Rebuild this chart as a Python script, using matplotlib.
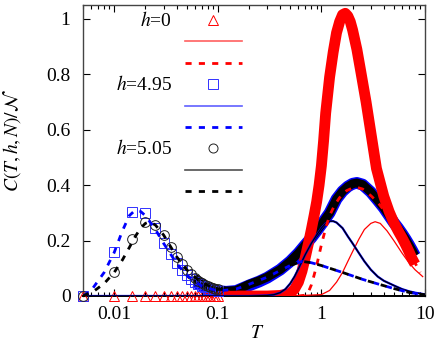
import matplotlib
matplotlib.use('Agg')
import matplotlib.pyplot as plt
from matplotlib.lines import Line2D

plt.rcParams['font.family'] = ['Liberation Serif', 'DejaVu Serif']
plt.rcParams['mathtext.fontset'] = 'stix'

# sparse low-T data points (h=0, 4.95, 5.05)
T_pts = [0.005, 0.010, 0.015, 0.020, 0.025, 0.030, 0.035, 0.040, 0.045, 0.050,
         0.055, 0.060, 0.065, 0.070, 0.075, 0.080, 0.085, 0.090, 0.095, 0.100]
C_pts_h0 = [0, 0, 0, 0, 0, 0, 0, 0, 0, 0, 0, 0, 0, 0, 0, 0, 0, 0, 0, 0]
C_pts_h495 = [0, 0.157, 0.302, 0.300, 0.247, 0.190, 0.150, 0.118, 0.093, 0.075,
              0.061, 0.050, 0.042, 0.036, 0.031, 0.027, 0.024, 0.022, 0.020, 0.018]
C_pts_h505 = [0, 0.085, 0.205, 0.266, 0.256, 0.220, 0.178, 0.142, 0.115, 0.095,
              0.078, 0.065, 0.055, 0.047, 0.041, 0.036, 0.032, 0.029, 0.026, 0.024]

# dense data points at higher T (they merge into thick bands)
T_band_h0 = [0.1, 0.2, 0.3, 0.4, 0.5, 0.55, 0.6, 0.65, 0.7, 0.75, 0.8, 0.85, 0.9,
             0.95, 1.0, 1.05, 1.1, 1.2, 1.3, 1.4, 1.5, 1.6, 1.7, 1.8, 1.9, 2.0,
             2.2, 2.4, 2.7, 3.0, 3.4, 4.0, 4.5, 5.0, 5.5, 6.0, 6.5, 7.0, 7.5, 8.0]
C_band_h0 = [0, 0, 0, 0.002, 0.01, 0.025, 0.05, 0.09, 0.14, 0.19, 0.24, 0.29, 0.34,
             0.40, 0.47, 0.56, 0.66, 0.79, 0.88, 0.95, 0.99, 1.015, 1.02, 1.01, 0.99,
             0.96, 0.89, 0.81, 0.70, 0.59, 0.46, 0.36, 0.305, 0.265, 0.235, 0.21,
             0.185, 0.16, 0.135, 0.115]

T_band = [0.06, 0.08, 0.1, 0.12, 0.15, 0.2, 0.25, 0.3, 0.4, 0.5, 0.6, 0.7, 0.8, 0.9,
          1.0, 1.2, 1.4, 1.6, 1.8, 2.0, 2.2, 2.5, 3.0, 3.5, 4.0, 4.5, 5.0, 5.5,
          6.0, 6.5, 7.0, 7.5, 8.0]
C_band_h495 = [0.050, 0.027, 0.018, 0.015, 0.018, 0.038, 0.052, 0.066, 0.095, 0.125,
               0.155, 0.185, 0.21, 0.235, 0.258, 0.30, 0.35, 0.378, 0.395, 0.405,
               0.408, 0.402, 0.375, 0.345, 0.318, 0.29, 0.265, 0.245, 0.225, 0.205,
               0.185, 0.165, 0.145]
C_band_h505 = [0.065, 0.036, 0.024, 0.018, 0.02, 0.042, 0.055, 0.068, 0.095, 0.125,
               0.155, 0.185, 0.21, 0.235, 0.258, 0.30, 0.35, 0.378, 0.395, 0.405,
               0.408, 0.402, 0.375, 0.345, 0.318, 0.29, 0.265, 0.245, 0.225, 0.205,
               0.185, 0.165, 0.145]

# solid curves
T_sol_h0 = [0.005, 0.5, 1.0, 1.2, 1.4, 1.6, 1.8, 2.0, 2.3, 2.6, 3.0, 3.3, 3.7, 4.3,
            5.0, 6.0, 7.0, 8.0, 9.0, 9.5]
C_sol_h0 = [0, 0, 0.005, 0.02, 0.05, 0.085, 0.125, 0.16, 0.205, 0.24, 0.262, 0.268,
            0.262, 0.235, 0.2, 0.155, 0.12, 0.095, 0.078, 0.07]
T_sol = [0.005, 0.1, 0.2, 0.3, 0.35, 0.4, 0.45, 0.5, 0.55, 0.6, 0.65, 0.7, 0.8, 0.9,
         1.0, 1.1, 1.2, 1.3, 1.4, 1.6, 1.8, 2.0, 2.3, 2.6, 3.0, 3.5, 4.0, 5.0, 6.0,
         7.0, 8.0, 10.0]
C_sol_h495 = [0, 0, 0, 0.002, 0.005, 0.012, 0.025, 0.045, 0.07, 0.098, 0.125, 0.15,
              0.19, 0.22, 0.245, 0.262, 0.27, 0.27, 0.265, 0.245, 0.215, 0.19, 0.155,
              0.125, 0.095, 0.07, 0.055, 0.038, 0.025, 0.017, 0.012, 0.006]
C_sol_h505 = [0, 0, 0, 0.002, 0.005, 0.012, 0.025, 0.045, 0.07, 0.098, 0.125, 0.15,
              0.19, 0.22, 0.245, 0.262, 0.27, 0.27, 0.265, 0.245, 0.215, 0.19, 0.155,
              0.125, 0.095, 0.07, 0.055, 0.038, 0.025, 0.017, 0.012, 0.006]

# dashed curves
T_dash_h0 = [0.6, 0.7, 0.75, 0.8, 0.85, 0.9, 1.0, 1.1, 1.2, 1.35, 1.5, 1.75, 2.0,
             2.2, 2.5, 3.0, 3.5, 4.0, 5.0, 6.0, 7.0, 8.0, 9.0]
C_dash_h0 = [0, 0.003, 0.015, 0.04, 0.075, 0.11, 0.185, 0.245, 0.29, 0.33, 0.355,
             0.38, 0.39, 0.392, 0.386, 0.362, 0.338, 0.31, 0.255, 0.205, 0.16, 0.12,
             0.085]
T_dash_h495 = [0.005, 0.006, 0.008, 0.01, 0.012, 0.014, 0.016, 0.018, 0.02, 0.025,
               0.03, 0.04, 0.05, 0.07, 0.1, 0.15, 0.2, 0.3, 0.4, 0.5, 0.65, 0.8,
               1.0, 1.6, 2.5, 3.4, 5.0, 7.0, 10.0]
C_dash_h495 = [0, 0.02, 0.085, 0.157, 0.235, 0.29, 0.31, 0.305, 0.29, 0.24, 0.19,
               0.118, 0.075, 0.036, 0.018, 0.025, 0.042, 0.068, 0.092, 0.11, 0.125,
               0.12, 0.11, 0.085, 0.06, 0.045, 0.027, 0.013, 0.004]
T_dash_h505 = [0.005, 0.0065, 0.008, 0.01, 0.012, 0.014, 0.016, 0.018, 0.02, 0.022,
               0.025, 0.03, 0.04, 0.05, 0.07, 0.1, 0.15, 0.2, 0.3, 0.4, 0.5, 0.65,
               0.8, 1.0, 1.6, 2.5, 3.4, 5.0, 7.0, 10.0]
C_dash_h505 = [0, 0.02, 0.045, 0.085, 0.13, 0.175, 0.215, 0.245, 0.262, 0.268, 0.256,
               0.22, 0.142, 0.095, 0.047, 0.024, 0.025, 0.042, 0.068, 0.092, 0.11,
               0.125, 0.12, 0.11, 0.085, 0.06, 0.045, 0.027, 0.013, 0.004]

x_ticks = [0.01, 0.1, 1, 10]
x_ticklabels = ['0.01', '0.1', '1', '10']
y_ticks = [0, 0.2, 0.4, 0.6, 0.8, 1]
y_ticklabels = ['0', '0.2', '0.4', '0.6', '0.8', '1']

RED = '#ff0000'
BLUE = '#0000ff'
BLACK = '#000000'
DASH = (2.2, 2.6)

W, H = 436, 346
fig = plt.figure(figsize=(W / 100, H / 100), dpi=100)
ax = fig.add_axes([83 / W, (H - 296) / H, (425 - 83) / W, (296 - 5) / H])
ax.set_xscale('log')
ax.set_xlim(0.005, 10)
ax.set_ylim(0, 1.05)

# thick bands made of dense points
ax.plot(T_band, C_band_h495, color=BLUE, lw=8.5, solid_capstyle='butt', zorder=2)
ax.plot(T_band, C_band_h505, color=BLACK, lw=6.3, solid_capstyle='butt', zorder=3)
ax.plot(T_band_h0, C_band_h0, color=RED, lw=7.8, solid_capstyle='butt', zorder=4)

# sparse points
ax.plot(T_pts, C_pts_h0, ls='none', marker='^', ms=7.5, mfc='none', mec=RED,
        mew=0.7, zorder=5, clip_on=False)
ax.plot(T_pts, C_pts_h495, ls='none', marker='s', ms=7, mfc='none', mec='#3030ff',
        mew=0.7, zorder=5, clip_on=False)
ax.plot(T_pts, C_pts_h505, ls='none', marker='o', ms=7, mfc='none', mec='#202020',
        mew=0.7, zorder=5, clip_on=False)

# solid lines
ax.plot(T_sol_h0, C_sol_h0, color=RED, lw=0.9, zorder=6)
ax.plot(T_sol, C_sol_h495, color=BLUE, lw=1.6, zorder=6)
ax.plot(T_sol, C_sol_h505, color=BLACK, lw=0.9, zorder=6)

# dashed lines
ax.plot(T_dash_h0, C_dash_h0, color=RED, lw=2.0, dashes=DASH, zorder=7)
ax.plot(T_dash_h495, C_dash_h495, color=BLUE, lw=2.0, dashes=DASH, zorder=7)
ax.plot(T_dash_h505, C_dash_h505, color=BLACK, lw=2.0, dashes=DASH, zorder=7)

ax.set_xticks(x_ticks)
ax.set_xticklabels(x_ticklabels)
ax.set_yticks(y_ticks)
ax.set_yticklabels(y_ticklabels)
ax.tick_params(which='both', direction='in', top=True, right=True, labelsize=14)
ax.tick_params(which='major', length=5, width=0.8)
ax.tick_params(which='minor', length=3, width=0.8)
ax.tick_params(axis='x', pad=7)
ax.tick_params(axis='y', pad=9)
for s in ax.spines.values():
    s.set_color('#444444')
    s.set_linewidth(1.0)
ax.spines['bottom'].set_color(BLACK)
ax.spines['bottom'].set_linewidth(1.4)

fig.text(12 / W, 1 - 140 / H, r'$C(T,h,N)/\mathcal{N}$', rotation=90,
         ha='center', va='center', fontsize=14)
fig.text(257 / W, 1 - 333 / H, r'$T$', ha='center', va='center', fontsize=14)


# key, placed like the original
def fx(x):
    return x / W


def fy(y):
    return 1 - y / H


labels = [r'$h$=0', r'$h$=4.95', r'$h$=5.05']
marks = ['^', 's', 'o']
mcols = [RED, '#3030ff', '#202020']
lcols = ['#ff6060', '#6060ff', '#505050']
dcols = [RED, BLUE, BLACK]
row0 = 20
step = 21.4
for i in range(3):
    y1 = row0 + 3 * i * step
    fig.text(fx(172), fy(y1), labels[i], ha='right', va='center', fontsize=14)
    fig.add_artist(Line2D([fx(213)], [fy(y1)], ls='none', marker=marks[i], ms=6.5,
                          mfc='none', mec=mcols[i], mew=0.7))
    fig.add_artist(Line2D([fx(185), fx(242)], [fy(y1 + step)] * 2, color=lcols[i], lw=1.2))
    fig.add_artist(Line2D([fx(185), fx(242)], [fy(y1 + 2 * step)] * 2, color=dcols[i],
                          lw=2.0, dashes=DASH))

fig.savefig('out.png', dpi=100)
